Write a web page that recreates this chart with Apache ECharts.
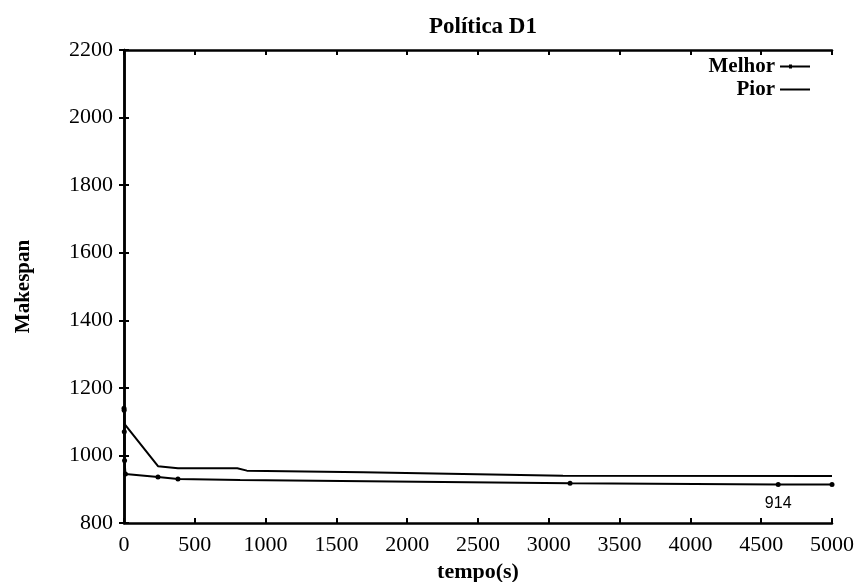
<!DOCTYPE html>
<html><head><meta charset="utf-8">
<script src="https://cdn.jsdelivr.net/npm/echarts@6/dist/echarts.min.js"></script>
<style>html,body{margin:0;padding:0;background:#fff}#c{width:857px;height:582px}</style>
</head><body><div id="c"></div>
<script>
const titleText = 'Política D1';
const xName = 'tempo(s)';
const yName = 'Makespan';
const seriesNames = ['Melhor', 'Pior'];
const melhorX = [0, 1, 2, 4, 10, 240, 381, 820, 3150, 4620, 5000];
const melhorY = [1140, 1134, 1070, 985, 945, 936, 930, 927, 918, 914, 914];
const piorX = [0, 240, 381, 800, 868, 1688, 3100, 5000];
const piorY = [1095, 968, 962, 962, 955, 950, 940, 939];
const annotIndex = 9; // point labelled with its value
const hiddenMarkIndex = 7; // step without a visible marker
const xTicks = [0, 500, 1000, 1500, 2000, 2500, 3000, 3500, 4000, 4500, 5000];
const yTicks = [800, 1000, 1200, 1400, 1600, 1800, 2000, 2200];

const serif = '"Liberation Serif", "DejaVu Serif", serif';
const black = '#000';
const chart = echarts.init(document.getElementById('c'));

const melhorData = melhorX.map((x, i) => {
  const d = { value: [x, melhorY[i]] };
  if (i === annotIndex) {
    d.label = { show: true, position: 'bottom', distance: 9, formatter: String(melhorY[i]),
      color: black, fontFamily: '"Liberation Sans", sans-serif', fontSize: 16 };
  }
  if (i === hiddenMarkIndex) d.symbol = 'none';
  return d;
});
const piorData = piorX.map((x, i) => [x, piorY[i]]);

const axisCommon = {
  type: 'value',
  axisLine: { show: true, lineStyle: { color: black, width: 2.5 } },
  axisTick: { show: true, inside: true, length: 5, lineStyle: { color: black, width: 2 } },
  splitLine: { show: false }
};
const labelStyle = { color: black, fontFamily: serif, fontSize: 22, formatter: v => String(v) };

chart.setOption({
  animation: false,
  backgroundColor: '#fff',
  title: { text: titleText, left: 478, textAlign: 'center', top: 11,
    textStyle: { fontFamily: serif, fontSize: 23, fontWeight: 'bold', color: black } },
  legend: {
    orient: 'vertical', right: 42, top: 51, align: 'right', itemGap: 2,
    itemWidth: 30, itemHeight: 10,
    textStyle: { fontFamily: serif, fontSize: 21, fontWeight: 'bold', color: black },
    data: [
      { name: seriesNames[0], icon: 'path://M0,4 L30,4 L30,6 L0,6 Z M9,3 L12,3 L12,7 L9,7 Z' },
      { name: seriesNames[1], icon: 'path://M0,4 L30,4 L30,6 L0,6 Z' }
    ]
  },
  grid: { left: 124, right: 25, top: 50, bottom: 59, containLabel: false, outerBoundsMode: 'none' },
  xAxis: [
    Object.assign({}, axisCommon, { min: 0, max: 5000, interval: 500, position: 'bottom',
      name: xName, nameLocation: 'middle', nameGap: 38,
      nameTextStyle: { fontFamily: serif, fontSize: 22, fontWeight: 'bold', color: black },
      axisLabel: Object.assign({ margin: 11 }, labelStyle) }),
    Object.assign({}, axisCommon, { min: 0, max: 5000, interval: 500, position: 'top',
      axisLabel: { show: false } })
  ],
  yAxis: [
    Object.assign({}, axisCommon, { min: 800, max: 2200, interval: 200, position: 'left',
      name: yName, nameLocation: 'middle', nameGap: 90, nameRotate: 90,
      nameTextStyle: { fontFamily: serif, fontSize: 21, fontWeight: 'bold', color: black },
      axisLabel: Object.assign({ margin: 11 }, labelStyle) }),
    Object.assign({}, axisCommon, { min: 800, max: 2200, interval: 200, position: 'right',
      axisLabel: { show: false } })
  ],
  series: [
    { name: seriesNames[0], type: 'line', data: melhorData, symbol: 'circle', symbolSize: 5,
      itemStyle: { color: black }, lineStyle: { color: black, width: 2 } },
    { name: seriesNames[1], type: 'line', data: piorData, showSymbol: false, symbol: 'none',
      itemStyle: { color: black }, lineStyle: { color: black, width: 2 } }
  ]
});
</script></body></html>
